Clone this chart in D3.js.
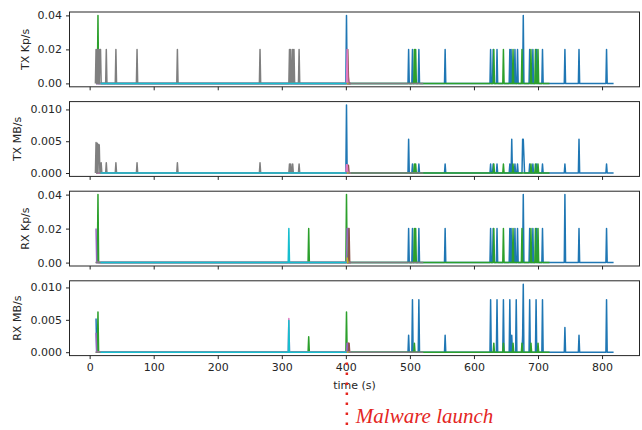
<!DOCTYPE html>
<html>
<head>
<meta charset="utf-8">
<script src="https://cdn.jsdelivr.net/npm/d3@7/dist/d3.min.js"></script>
<style>
  html, body { margin: 0; padding: 0; background: #fff; }
  svg { display: block; }
</style>
</head>
<body>
<svg id="chart" width="642" height="430"></svg>
<script>
// ---------------- DATA ----------------
const xTicks = [0, 100, 200, 300, 400, 500, 600, 700, 800];
const xLabel = "time (s)";
const panelLabels = ["TX Kp/s", "TX MB/s", "RX Kp/s", "RX MB/s"];
const panelTicks = [[0, 0.02, 0.04], [0, 0.005, 0.010], [0, 0.02, 0.04], [0, 0.005, 0.010]];
const panelTickFormats = [".2f", ".3f", ".2f", ".3f"];

// series (matplotlib default cycle order): name, colour, first and last sample (s)
const seriesNames  = ["blue", "green", "red", "purple", "brown", "pink", "grey", "olive", "cyan"];
const seriesColors = ["#1f77b4", "#2ca02c", "#d62728", "#9467bd", "#8c564b", "#e377c2", "#7f7f7f", "#bcbd22", "#17becf"];
const seriesStart  = [10, 12, 402, 10, 402, 10, 9, 402, 17];
const seriesEnd    = [818, 718, 406, 408, 408, 408, 521, 404, 401];

// non-zero samples per panel: [series, time (s), value]; all other samples are 0
const txKps = [
  ["grey",10,0.02],["grey",12,0.02],["grey",14,0.02],["grey",16,0.02],["grey",17,0.02],
  ["grey",26,0.02],["grey",41,0.02],["grey",74,0.02],["grey",137,0.02],["grey",266,0.02],["grey",312,0.02],["grey",314,0.02],["grey",317,0.02],["grey",319,0.02],["grey",327,0.02],
  ["green",13,0.04],
  ["blue",401,0.04],["pink",402,0.02],["brown",403,0.02],["brown",404,0.004],
  ["blue",498,0.02],["blue",504,0.02],["blue",514,0.02],["blue",555,0.02],["blue",626,0.02],["blue",630,0.02],["blue",636,0.02],["blue",656,0.02],["blue",658,0.02],
  ["blue",664,0.02],["blue",668,0.02],["blue",677,0.04],["blue",687,0.02],["blue",692,0.02],["blue",698,0.02],["blue",707,0.02],["blue",742,0.02],["blue",764,0.02],["blue",807,0.02],
  ["green",507,0.02],["green",509,0.02],["green",631,0.02],["green",646,0.02],["green",661,0.02],["green",675,0.02],["green",689,0.02],["green",696,0.02],["green",700,0.02]
];
const txMBs = [
  ["grey",10,0.0048],["grey",12,0.0047],["grey",14,0.0045],["grey",15,0.0044],
  ["grey",18,0.0016],["grey",26,0.0016],["grey",41,0.0016],["grey",74,0.0016],["grey",137,0.0016],["grey",266,0.0016],["grey",312,0.0014],["grey",314,0.0014],["grey",317,0.0014],["grey",327,0.0014],
  ["blue",401,0.0107],["pink",401,0.0013],["pink",402,0.0013],["brown",403,0.0012],["brown",404,0.0012],
  ["blue",498,0.0053],["blue",504,0.0014],["blue",514,0.0014],["blue",555,0.0014],["blue",626,0.0014],["blue",630,0.0014],["blue",636,0.0014],["blue",656,0.0014],["blue",659,0.0053],
  ["blue",664,0.0014],["blue",668,0.0014],["blue",676,0.0053],["blue",677,0.0053],["blue",678,0.0026],["blue",687,0.0014],["blue",692,0.0014],["blue",698,0.0014],["blue",707,0.0014],
  ["blue",742,0.0014],["blue",764,0.0053],["blue",807,0.0014],
  ["green",507,0.0014],["green",509,0.0014],["green",631,0.0014],["green",646,0.0014],["green",661,0.0014],["green",689,0.0014],["green",696,0.0014],["green",700,0.0014]
];
const rxKps = [
  ["purple",10,0.02],["green",13,0.04],["cyan",311,0.02],["green",342,0.02],
  ["green",401,0.04],["purple",402,0.02],["purple",403,0.02],["purple",404,0.02],["brown",405,0.02],["olive",402,0.003],
  ["blue",498,0.02],["blue",504,0.02],["blue",514,0.02],["blue",555,0.02],["blue",626,0.02],["blue",630,0.02],["blue",636,0.02],["blue",656,0.02],["blue",658,0.02],
  ["blue",664,0.02],["blue",668,0.02],["blue",677,0.04],["blue",687,0.02],["blue",692,0.02],["blue",698,0.02],["blue",707,0.02],["blue",742,0.04],["blue",764,0.02],["blue",807,0.02],
  ["green",507,0.02],["green",509,0.02],["green",631,0.02],["green",646,0.02],["green",661,0.02],["green",675,0.02],["green",689,0.02],["green",696,0.02],["green",700,0.02]
];
const rxMBs = [
  ["blue",10,0.0052],["purple",10,0.003],["green",13,0.0062],["pink",311,0.0052],["cyan",311,0.0049],["green",342,0.0024],
  ["green",401,0.0062],["purple",402,0.0014],["purple",403,0.0014],["red",404,0.0014],["brown",405,0.0014],
  ["blue",498,0.0026],["blue",504,0.0081],["blue",514,0.0081],["blue",555,0.0026],["blue",626,0.0081],["blue",636,0.0081],["blue",646,0.0081],["blue",656,0.0081],["blue",659,0.0026],
  ["blue",666,0.0081],["blue",676,0.0026],["blue",677,0.0105],["blue",687,0.0081],["blue",697,0.0081],["blue",707,0.0081],["blue",742,0.0038],["blue",764,0.0026],["blue",807,0.0081],
  ["green",507,0.0014],["green",631,0.0014],["green",646,0.0014],["green",661,0.0014],["green",675,0.0014],["green",689,0.0014],["green",700,0.0014]
];
const panelData = [txKps, txMBs, rxKps, rxMBs];

const annotationTime = 400;
const annotationText = "Malware launch";

// ---------------- LAYOUT ----------------
const svg = d3.select("#chart");
const left = 69.5, right = 639.5;
const panelTop0 = 12, panelStep = 89.6, panelH = 74.8;
const ink = "#262626";
const sans = "'DejaVu Sans', sans-serif";

const allTimes = seriesStart.concat(seriesEnd);
const tMin = d3.min(allTimes), tMax = d3.max(allTimes);
const tPad = (tMax - tMin) * 0.05;
const x = d3.scaleLinear().domain([tMin - tPad, tMax + tPad]).range([left, right]);

const line = d3.line().x(d => x(d[0])).y(d => d[1]);

panelData.forEach((samples, p) => {
  const top = panelTop0 + p * panelStep, bottom = top + panelH;
  const vMax = d3.max(samples, d => d[2]);
  const y = d3.scaleLinear().domain([-0.05 * vMax, 1.05 * vMax]).range([bottom, top]);
  const g = svg.append("g");

  const clipId = "clip" + p;
  svg.append("clipPath").attr("id", clipId)
    .append("rect").attr("x", left).attr("y", top).attr("width", right - left).attr("height", panelH);

  const plot = g.append("g").attr("clip-path", `url(#${clipId})`);
  seriesNames.forEach((name, s) => {
    const vals = new Map(samples.filter(d => d[0] === name).map(d => [d[1], d[2]]));
    const pts = d3.range(seriesStart[s], seriesEnd[s] + 1).map(t => [t, y(vals.get(t) || 0)]);
    plot.append("path")
      .attr("d", line(pts))
      .attr("fill", "none")
      .attr("stroke", seriesColors[s])
      .attr("stroke-width", 1.5)
      .attr("stroke-linejoin", "round");
  });

  // frame
  g.append("rect").attr("x", left).attr("y", top).attr("width", right - left).attr("height", panelH)
    .attr("fill", "none").attr("stroke", ink).attr("stroke-width", 1);

  // y axis
  const yAxis = g.append("g").attr("transform", `translate(${left},0)`)
    .call(d3.axisLeft(y).tickValues(panelTicks[p]).tickFormat(d3.format(panelTickFormats[p])).tickSize(3.5).tickPadding(4));
  yAxis.select(".domain").remove();
  yAxis.selectAll("line").attr("stroke", ink);
  yAxis.selectAll("text").style("font-size", "11px").style("font-family", sans).attr("fill", ink);

  // x axis
  const xAxis = g.append("g").attr("transform", `translate(0,${bottom})`)
    .call(d3.axisBottom(x).tickValues(xTicks).tickSize(3.5).tickPadding(4)
      .tickFormat(p === panelData.length - 1 ? d3.format("d") : () => ""));
  xAxis.select(".domain").remove();
  xAxis.selectAll("line").attr("stroke", ink);
  xAxis.selectAll("text").style("font-size", "11px").style("font-family", sans).attr("fill", ink);

  // y label
  const labelX = panelTickFormats[p] === ".3f" ? 17.5 : 25;
  g.append("text")
    .attr("transform", `translate(${labelX},${(top + bottom) / 2}) rotate(-90)`)
    .attr("text-anchor", "middle").attr("dominant-baseline", "central")
    .style("font-size", "11px").style("font-family", sans).attr("fill", ink)
    .text(panelLabels[p]);
});

// x label
const lastBottom = panelTop0 + (panelData.length - 1) * panelStep + panelH;
svg.append("text")
  .attr("x", (left + right) / 2).attr("y", lastBottom + 33)
  .attr("text-anchor", "middle")
  .style("font-size", "11px").style("font-family", sans).attr("fill", ink)
  .text(xLabel);

// malware annotation
const red = "#e4261f";
svg.append("line")
  .attr("x1", x(annotationTime) + 1).attr("x2", x(annotationTime) + 1)
  .attr("y1", lastBottom + 7).attr("y2", 432)
  .attr("stroke", red).attr("stroke-width", 2.5)
  .attr("stroke-dasharray", "2.5,7.5");
svg.append("text")
  .attr("x", x(annotationTime) + 10).attr("y", 422.5)
  .style("font-family", "'Liberation Serif', 'DejaVu Serif', serif")
  .style("font-style", "italic").style("font-size", "21px").attr("fill", red)
  .text(annotationText);
</script>
</body>
</html>
